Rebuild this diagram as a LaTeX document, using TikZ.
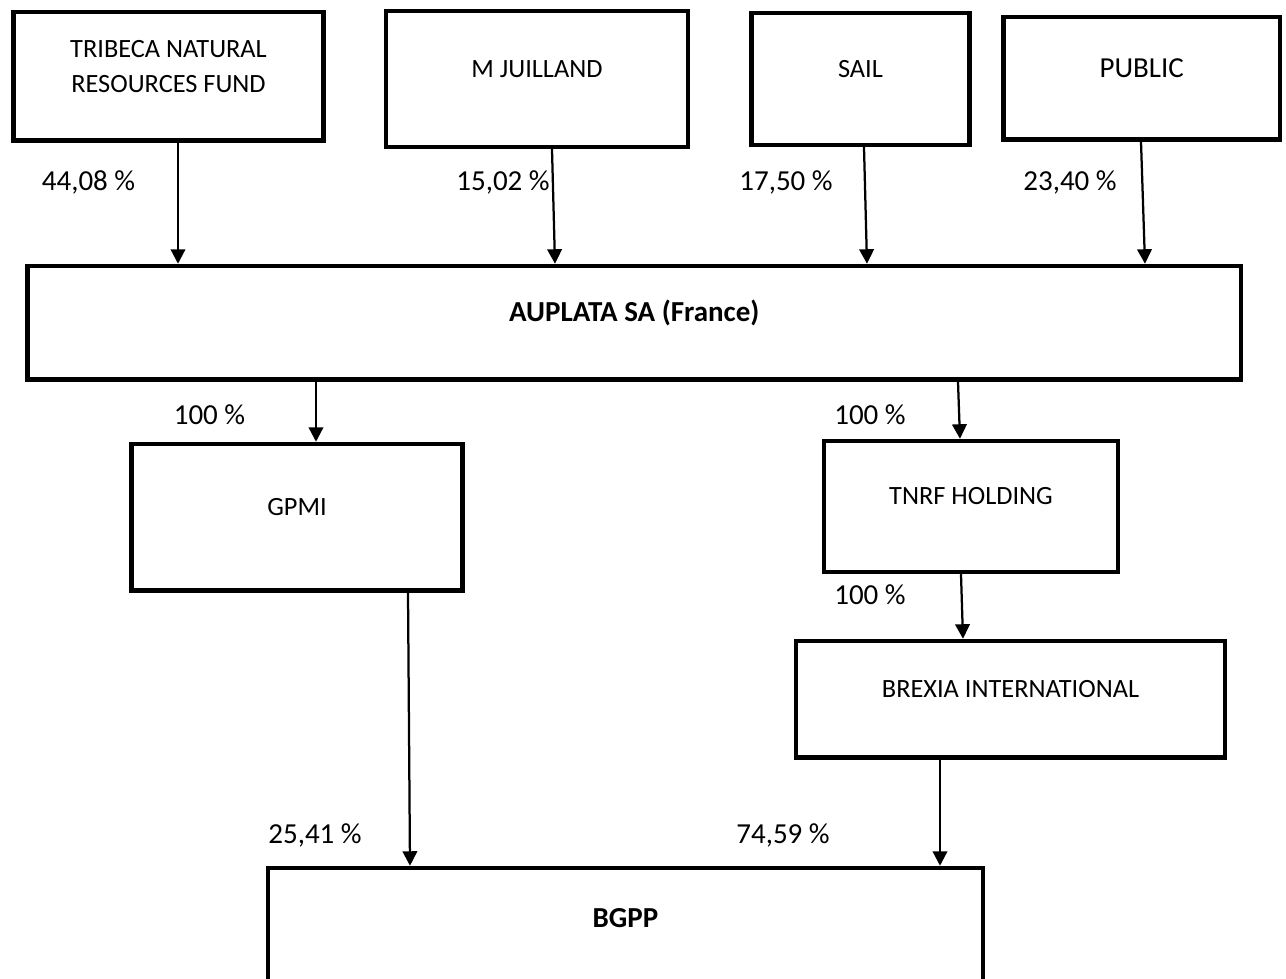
\documentclass[tikz,border=0pt]{standalone}
\usepackage{fontspec}
\setmainfont{Carlito}
\usepackage{tikz}
\usetikzlibrary{arrows.meta}
\tikzset{>={Triangle[width=0.29cm,length=0.29cm]}}

\begin{document}
\begin{tikzpicture}[x=0.02cm, y=-0.02cm,
squarednode/.style={rectangle, draw=black, line width=0.09cm, inner sep=0pt},
boxtext/.style={align=center, font=\fontsize{15}{20}\selectfont},
bigtext/.style={font=\fontsize{16.5}{20}\selectfont},
share/.style={font=\fontsize{16.5}{20}\selectfont, text height=0.644em, text depth=0pt},
link/.style={->, line width=0.045cm},
]
\useasboundingbox (0,0) rectangle (1286,979);
\clip (0,0) rectangle (1286,979);

%Nodes
\node[squarednode, minimum width=6.2cm, minimum height=2.57cm](tribeca) at (168.5,76.25){};
\node[squarednode, minimum width=6.04cm, minimum height=2.72cm](juilland) at (537,79){};
\node[squarednode, minimum width=4.36cm, minimum height=2.64cm](sail) at (860.5,79){};
\node[squarednode, minimum width=5.53cm, minimum height=2.45cm](public) at (1141.75,78.25){};
\node[squarednode, minimum width=24.27cm, minimum height=2.27cm](auplata) at (634.25,322.75){};
\node[squarednode, minimum width=6.62cm, minimum height=2.93cm](gpmi) at (297,517.25){};
\node[squarednode, minimum width=5.88cm, minimum height=2.62cm](tnrf) at (971,506.5){};
\node[squarednode, minimum width=8.58cm, minimum height=2.33cm](brexia) at (1010.5,699.25){};
\node[squarednode, minimum width=14.3cm, minimum height=2.4cm](bgpp) at (625.5,928){};

%Texts
\node[boxtext](tribeca text) at ([yshift=0.2cm]tribeca.center){TRIBECA NATURAL\\ RESOURCES FUND};
\node[boxtext](juilland text) at ([yshift=0.2cm]juilland.center){M JUILLAND};
\node[boxtext](sail text) at ([yshift=0.2cm]sail.center){SAIL};
\node[bigtext](public text) at ([yshift=0.2cm]public.center){PUBLIC};
\node[bigtext, font=\fontsize{16.5}{20}\selectfont\bfseries](auplata text) at ([yshift=0.2cm]auplata.center){AUPLATA SA (France)};
\node[boxtext](gpmi text) at ([yshift=0.2cm]gpmi.center){GPMI};
\node[boxtext](tnrf text) at ([yshift=0.2cm]tnrf.center){TNRF HOLDING};
\node[boxtext](brexia text) at ([yshift=0.2cm]brexia.center){BREXIA INTERNATIONAL};
\node[bigtext, font=\fontsize{16.5}{20}\selectfont\bfseries](bgpp text) at ([yshift=0.2cm]bgpp.center){BGPP};

%Shares
\node[share](tribeca share) at (88.5,185){44,08 \%};
\node[share](juilland share) at (503,185){15,02 \%};
\node[share](sail share) at (786,185){17,50 \%};
\node[share](public share) at (1070,185){23,40 \%};
\node[share](gpmi share) at (209.5,419){100 \%};
\node[share](tnrf share) at (870,419){100 \%};
\node[share](brexia share) at (870,599){100 \%};
\node[share](bgpp share left) at (315,838){25,41 \%};
\node[share](bgpp share right) at (783,838){74,59 \%};

%Lines
\draw[link] (tribeca.south -| 178,0) -- (auplata.north -| 178,0);
\draw[link] (juilland.south -| 552,0) -- (auplata.north -| 555,0);
\draw[link] (sail.south -| 864,0) -- (auplata.north -| 867,0);
\draw[link] (public.south -| 1141,0) -- (auplata.north -| 1145,0);
\draw[link] (auplata.south -| 316,0) -- (gpmi.north -| 316,0);
\draw[link] (auplata.south -| 958,0) -- (tnrf.north -| 960,0);
\draw[link] (tnrf.south -| 961,0) -- (brexia.north -| 963,0);
\draw[link] (gpmi.south -| 408,0) -- (bgpp.north -| 410,0);
\draw[link] (brexia.south -| 940,0) -- (bgpp.north -| 940,0);

\end{tikzpicture}
\end{document}
